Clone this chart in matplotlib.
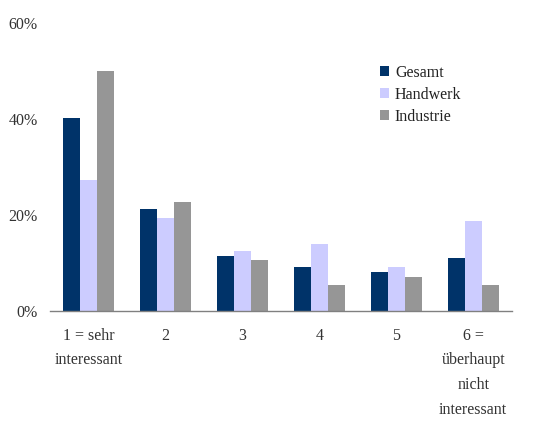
import numpy as np
import matplotlib.pyplot as plt
from matplotlib.ticker import FuncFormatter

categories = ["1 = sehr\ninteressant", "2", "3", "4", "5",
              "6 =\nüberhaupt\nnicht\ninteressant"]
gesamt = [40.1, 21.2, 11.5, 9.2, 8.1, 11.1]
handwerk = [27.2, 19.3, 12.5, 13.9, 9.2, 18.7]
industrie = [49.9, 22.6, 10.7, 5.4, 7.2, 5.4]

series = [("Gesamt", gesamt, "#003369"),
          ("Handwerk", handwerk, "#CCCCFF"),
          ("Industrie", industrie, "#969696")]

plt.rcParams["font.family"] = ["Liberation Serif", "DejaVu Serif"]

fig = plt.figure(figsize=(5.4, 4.21), dpi=100)
ax = fig.add_axes([0.0926, 0.261, 0.855, 0.685])

x = np.arange(len(categories))
width = 0.22
for i, (name, vals, color) in enumerate(series):
    ax.bar(x + (i - 1) * width, vals, width, color=color, label=name)

ax.set_xlim(-0.5, len(categories) - 0.5)
ax.set_ylim(0, 60)
ax.set_yticks([0, 20, 40, 60])
ax.yaxis.set_major_formatter(FuncFormatter(lambda v, p: f"{v:.0f}%"))
ax.set_xticks(x)
ax.set_xticklabels(categories, linespacing=1.72, va="top")

for side in ["top", "right", "left"]:
    ax.spines[side].set_visible(False)
ax.spines["bottom"].set_color("#808080")
ax.spines["bottom"].set_linewidth(1.0)
ax.tick_params(axis="both", length=0, labelsize=11.5, colors="#333333")
ax.tick_params(axis="x", pad=12)
ax.tick_params(axis="y", pad=9)

ax.legend(loc="upper left", bbox_to_anchor=(0.683, 0.905), frameon=False,
          fontsize=11.5, handlelength=0.6, handleheight=0.6,
          handletextpad=0.35, labelspacing=0.38, labelcolor="#222222")

fig.savefig("out.png", dpi=100)
